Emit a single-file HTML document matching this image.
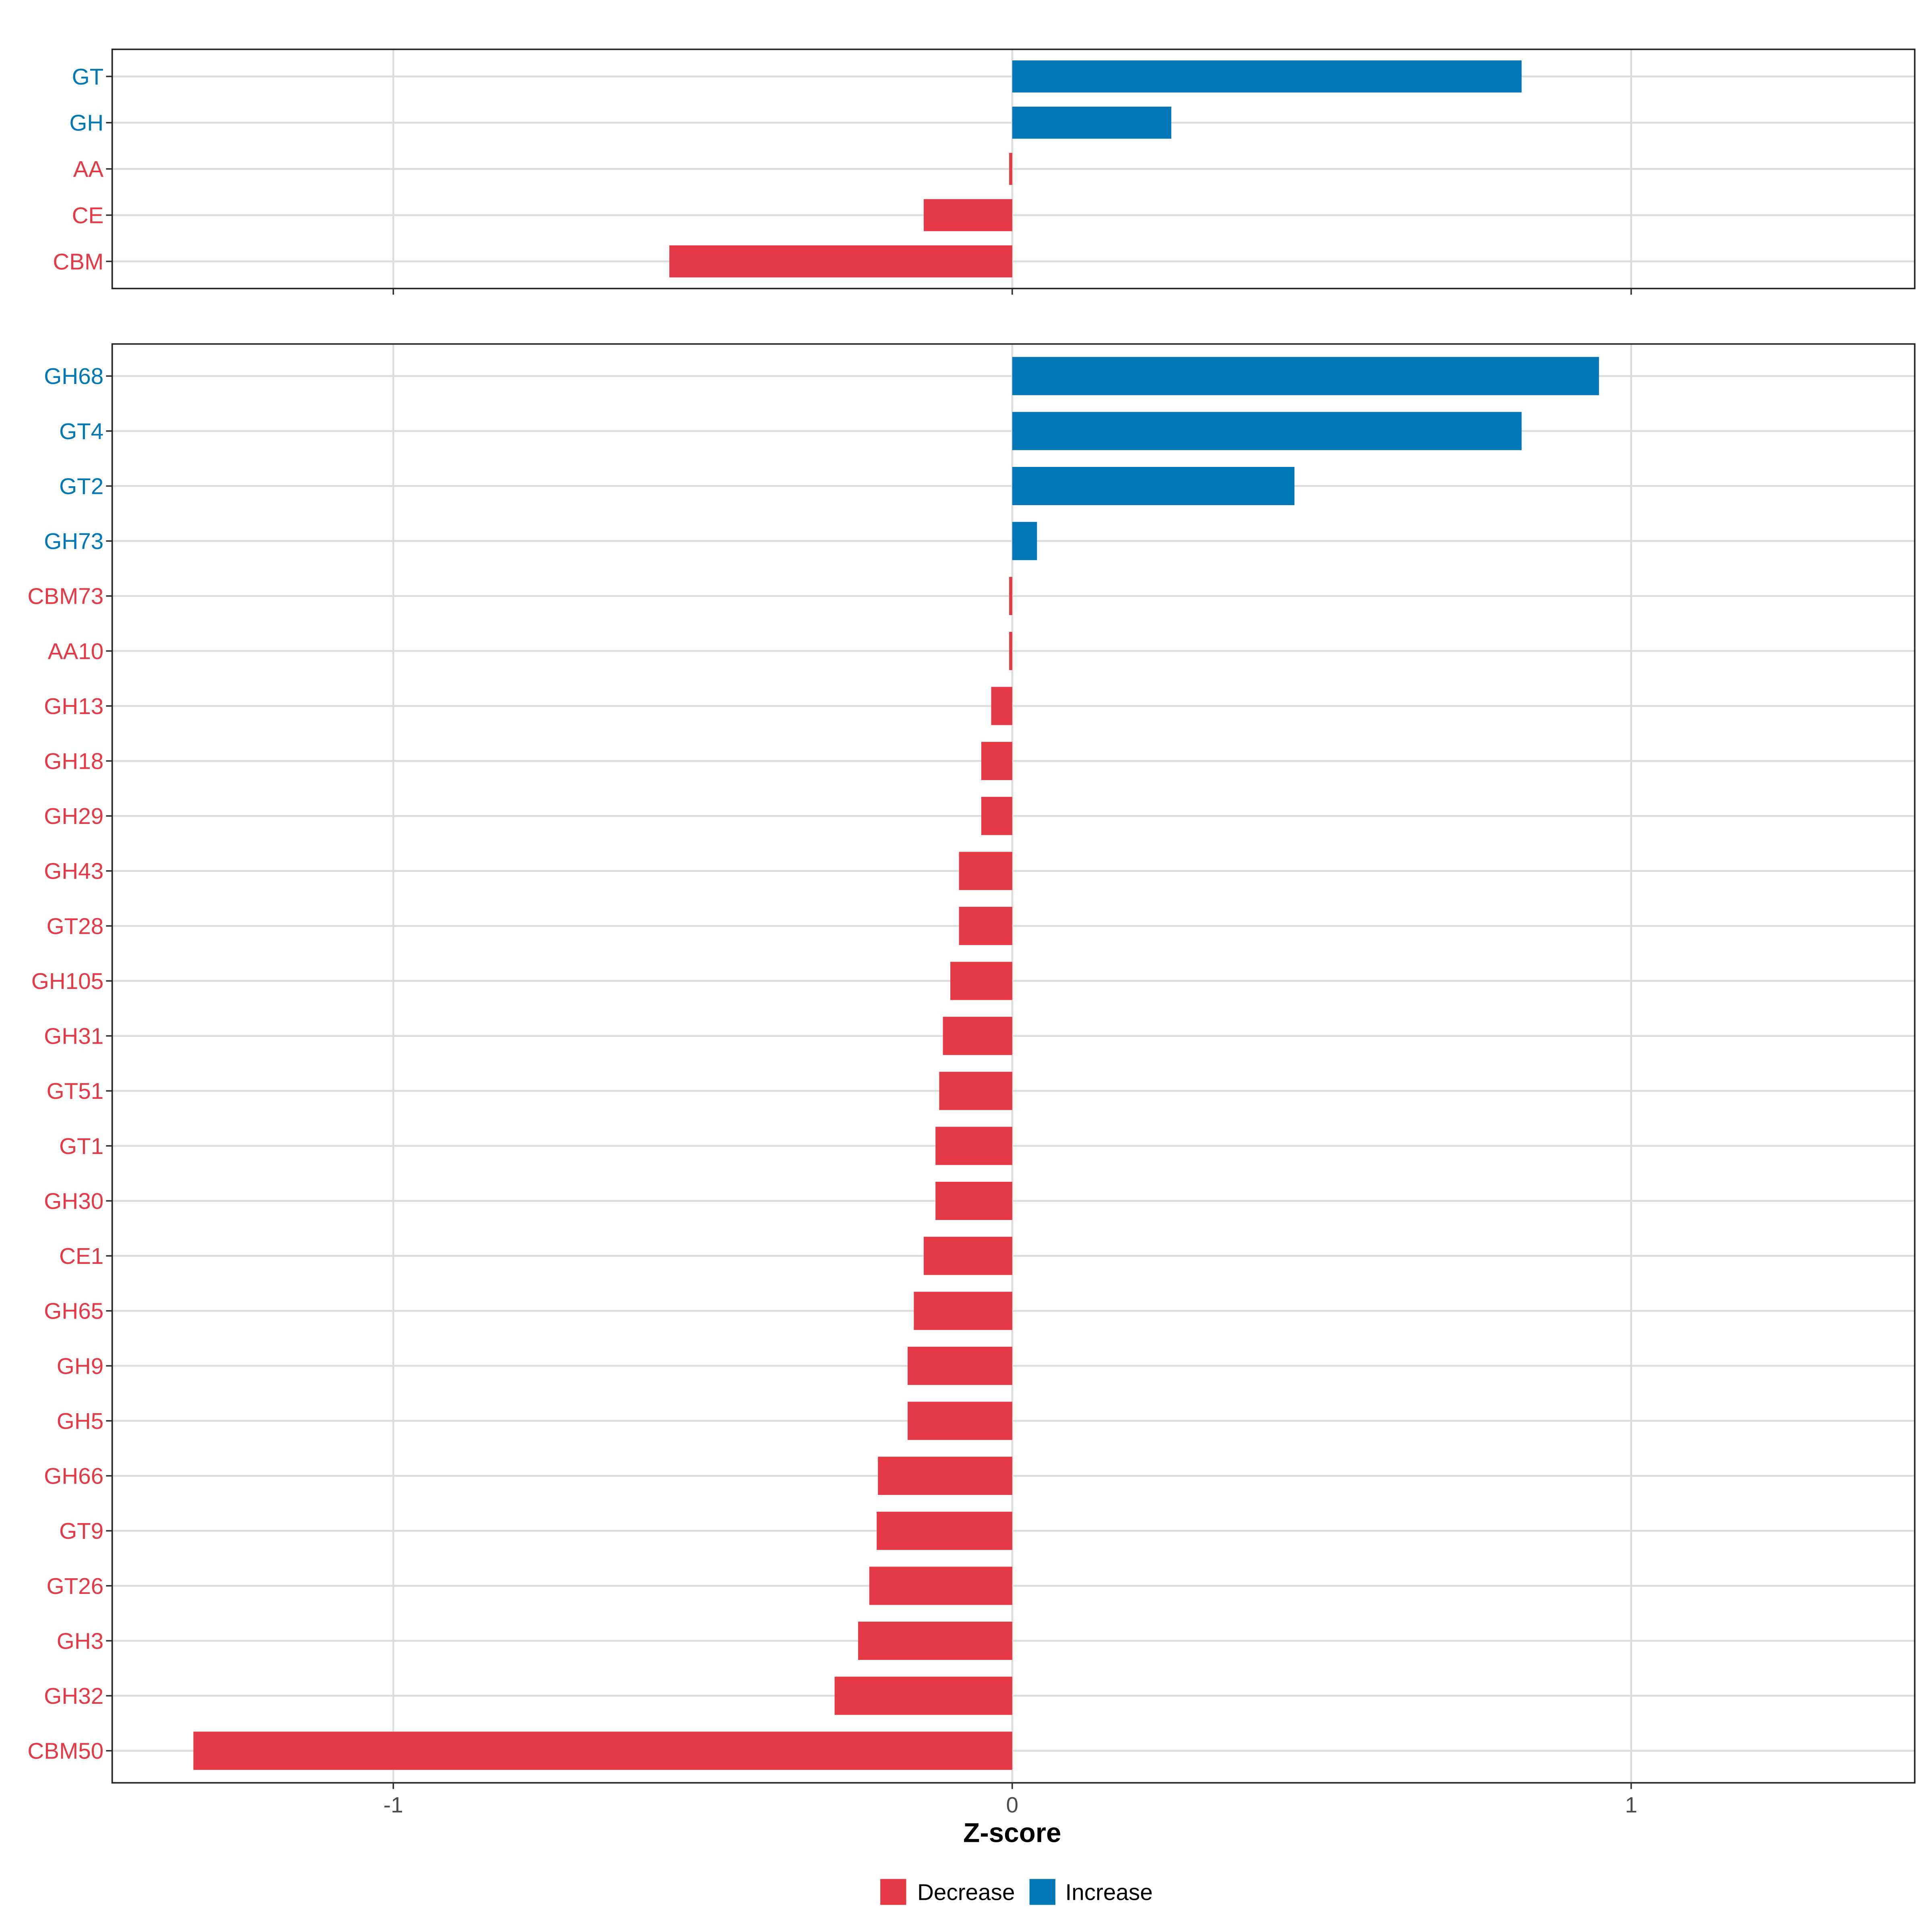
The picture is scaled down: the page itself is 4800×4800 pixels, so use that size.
<!DOCTYPE html>
<html><head><meta charset="utf-8"><style>
html,body{margin:0;padding:0;background:#fff;}
svg{display:block;}
text{font-family:"Liberation Sans",sans-serif;}
</style></head><body>
<svg id="chart" width="4800" height="4800" viewBox="0 0 1567 1567" xmlns="http://www.w3.org/2000/svg">
<rect x="0" y="0" width="1567" height="1567" fill="#fff"/>
<g id="top"></g>
<g id="bot"></g>
<text x="821" y="1494" font-size="22" font-weight="bold" text-anchor="middle">Z-score</text>
<g>
<rect x="714" y="1524" width="21" height="21" fill="#E63946"/>
<text x="744" y="1541" font-size="18.5">Decrease</text>
<rect x="835" y="1524" width="21" height="21" fill="#0077B6"/>
<text x="864" y="1541" font-size="18.5">Increase</text>
</g>
</svg>
<script>
const topCategories = ["GT","GH","AA","CE","CBM"];
const topValues = [0.823,0.257,-0.005,-0.143,-0.554];
const botCategories = ["GH68","GT4","GT2","GH73","CBM73","AA10","GH13","GH18","GH29","GH43","GT28","GH105","GH31","GT51","GT1","GH30","CE1","GH65","GH9","GH5","GH66","GT9","GT26","GH3","GH32","CBM50"];
const botValues = [0.948,0.823,0.456,0.04,-0.005,-0.005,-0.034,-0.05,-0.05,-0.086,-0.086,-0.1,-0.112,-0.118,-0.124,-0.124,-0.143,-0.159,-0.169,-0.169,-0.217,-0.219,-0.231,-0.249,-0.287,-1.323];
const xTicks = [-1,0,1];
const xTickLabels = ["-1","0","1"];

const NS="http://www.w3.org/2000/svg";
const RED="#E63946", BLUE="#0077B6";
const L=91,R=1553;
function xs(v){return 821+v*502;}
function mk(tag,attrs,parent){const e=document.createElementNS(NS,tag);for(const k in attrs)e.setAttribute(k,attrs[k]);parent.appendChild(e);return e;}

function panel(g,cats,vals,top,bottom,firstY,step,barH,showLabels,name){
  mk('rect',{x:L,y:top,width:R-L,height:bottom-top,fill:'#fff'},g);
  xTicks.forEach(t=>{const l=mk('line',{x1:xs(t),x2:xs(t),y1:top,y2:bottom,stroke:'#dcdcdc','stroke-width':1.5},g);
    
    });
  cats.forEach((c,i)=>{const y=firstY+i*step;
    mk('line',{x1:L,x2:R,y1:y,y2:y,stroke:'#dcdcdc','stroke-width':1.5},g);});
  cats.forEach((c,i)=>{const y=firstY+i*step;const v=vals[i];
    const x0=Math.min(xs(0),xs(v)),w=Math.max(Math.abs(xs(v)-xs(0)),1.5);
    const col=v>=0?BLUE:RED;
    const b=mk('rect',{x:x0,y:y-barH/2,width:w,height:barH,fill:col},g);
    
    
    mk('line',{x1:L-5,x2:L,y1:y,y2:y,stroke:'#333','stroke-width':1.2},g);
    const t=mk('text',{x:L-7,y:y+6.5,'font-size':18.5,'text-anchor':'end',fill:col},g);
    t.textContent=c;
    
    });
  mk('rect',{x:L,y:top,width:R-L,height:bottom-top,fill:'none',stroke:'#222','stroke-width':1.2},g);
  xTicks.forEach((t,i)=>{mk('line',{x1:xs(t),x2:xs(t),y1:bottom,y2:bottom+5,stroke:'#333','stroke-width':1.2},g);
    if(showLabels){const tx=mk('text',{x:xs(t),y:bottom+24,'font-size':18,'text-anchor':'middle',fill:'#4d4d4d'},g);
      tx.textContent=xTickLabels[i];
      
      }});
}
panel(document.getElementById('top'),topCategories,topValues,40,234,62,37.5,26,false,'top');
panel(document.getElementById('bot'),botCategories,botValues,279,1446,305,44.6,31,true,'bottom');
</script>
</body></html>
